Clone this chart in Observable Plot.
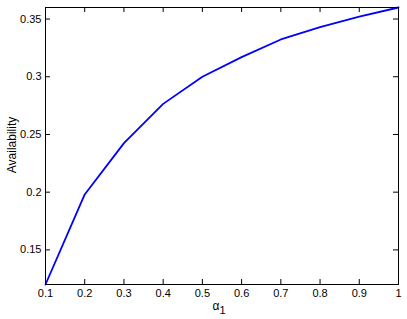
<!DOCTYPE html>
<html>
<head>
<meta charset="utf-8">
<script src="https://cdn.jsdelivr.net/npm/d3@7"></script>
<script src="https://cdn.jsdelivr.net/npm/@observablehq/plot@0.6"></script>
<style>
  html, body { margin: 0; padding: 0; background: #fff; }
  #chart svg { display: block; }
</style>
</head>
<body>
<div id="chart"></div>
<script>
const alpha1 = [0.1, 0.2, 0.3, 0.4, 0.5, 0.6, 0.7, 0.8, 0.9, 1.0];
const availability = [0.12, 0.198, 0.2425, 0.2765, 0.300, 0.317, 0.3323, 0.343, 0.352, 0.36];
const xTicks = [0.1, 0.2, 0.3, 0.4, 0.5, 0.6, 0.7, 0.8, 0.9, 1];
const yTicks = [0.15, 0.2, 0.25, 0.3, 0.35];
const xLabel = "α";
const xLabelSub = "1";
const yLabel = "Availability";

const data = alpha1.map((a, i) => ({a, v: availability[i]}));
const fmt = d => String(+d.toFixed(2));
const font = "Liberation Sans, Arial, Helvetica, sans-serif";

const W = 407, H = 319, mL = 45, mR = 9, mT = 7, mB = 35, tick = 5;
const innerW = W - mL - mR, innerH = H - mT - mB;

const chart = Plot.plot({
  width: W,
  height: H,
  marginLeft: mL,
  marginRight: mR,
  marginTop: mT,
  marginBottom: mB,
  style: {fontFamily: font, fontSize: "11px", background: "#fff", color: "#000"},
  x: {domain: [0.1, 1], label: null},
  y: {domain: [0.12, 0.36], label: null},
  marks: [
    Plot.tickX(xTicks, {x: d => d, stroke: "#000", insetTop: innerH - tick}),
    Plot.tickX(xTicks, {x: d => d, stroke: "#000", insetBottom: innerH - tick}),
    Plot.tickY(yTicks, {y: d => d, stroke: "#000", insetRight: innerW - tick}),
    Plot.tickY(yTicks, {y: d => d, stroke: "#000", insetLeft: innerW - tick}),
    Plot.axisX(xTicks, {anchor: "bottom", tickSize: 0, tickPadding: 5, tickFormat: fmt, label: null, fontSize: 11}),
    Plot.axisY(yTicks, {anchor: "left", tickSize: 0, tickPadding: 4, tickFormat: fmt, label: null, fontSize: 11}),
    Plot.line(data, {x: "a", y: "v", stroke: "#0000ff", strokeWidth: 1.8}),
    Plot.frame({stroke: "#000", strokeWidth: 1})
  ]
});
document.getElementById("chart").appendChild(chart);

const svg = d3.select(chart);
const xl = svg.append("text")
  .attr("x", 219).attr("y", 310)
  .attr("text-anchor", "middle")
  .attr("font-family", font).attr("font-size", 12).attr("fill", "#000");
xl.append("tspan").text(xLabel);
xl.append("tspan").attr("dy", 4).attr("font-size", 11).text(xLabelSub);

svg.append("text")
  .attr("transform", "translate(16,145) rotate(-90)")
  .attr("text-anchor", "middle")
  .attr("font-family", font).attr("font-size", 12).attr("fill", "#000")
  .text(yLabel);
</script>
</body>
</html>
